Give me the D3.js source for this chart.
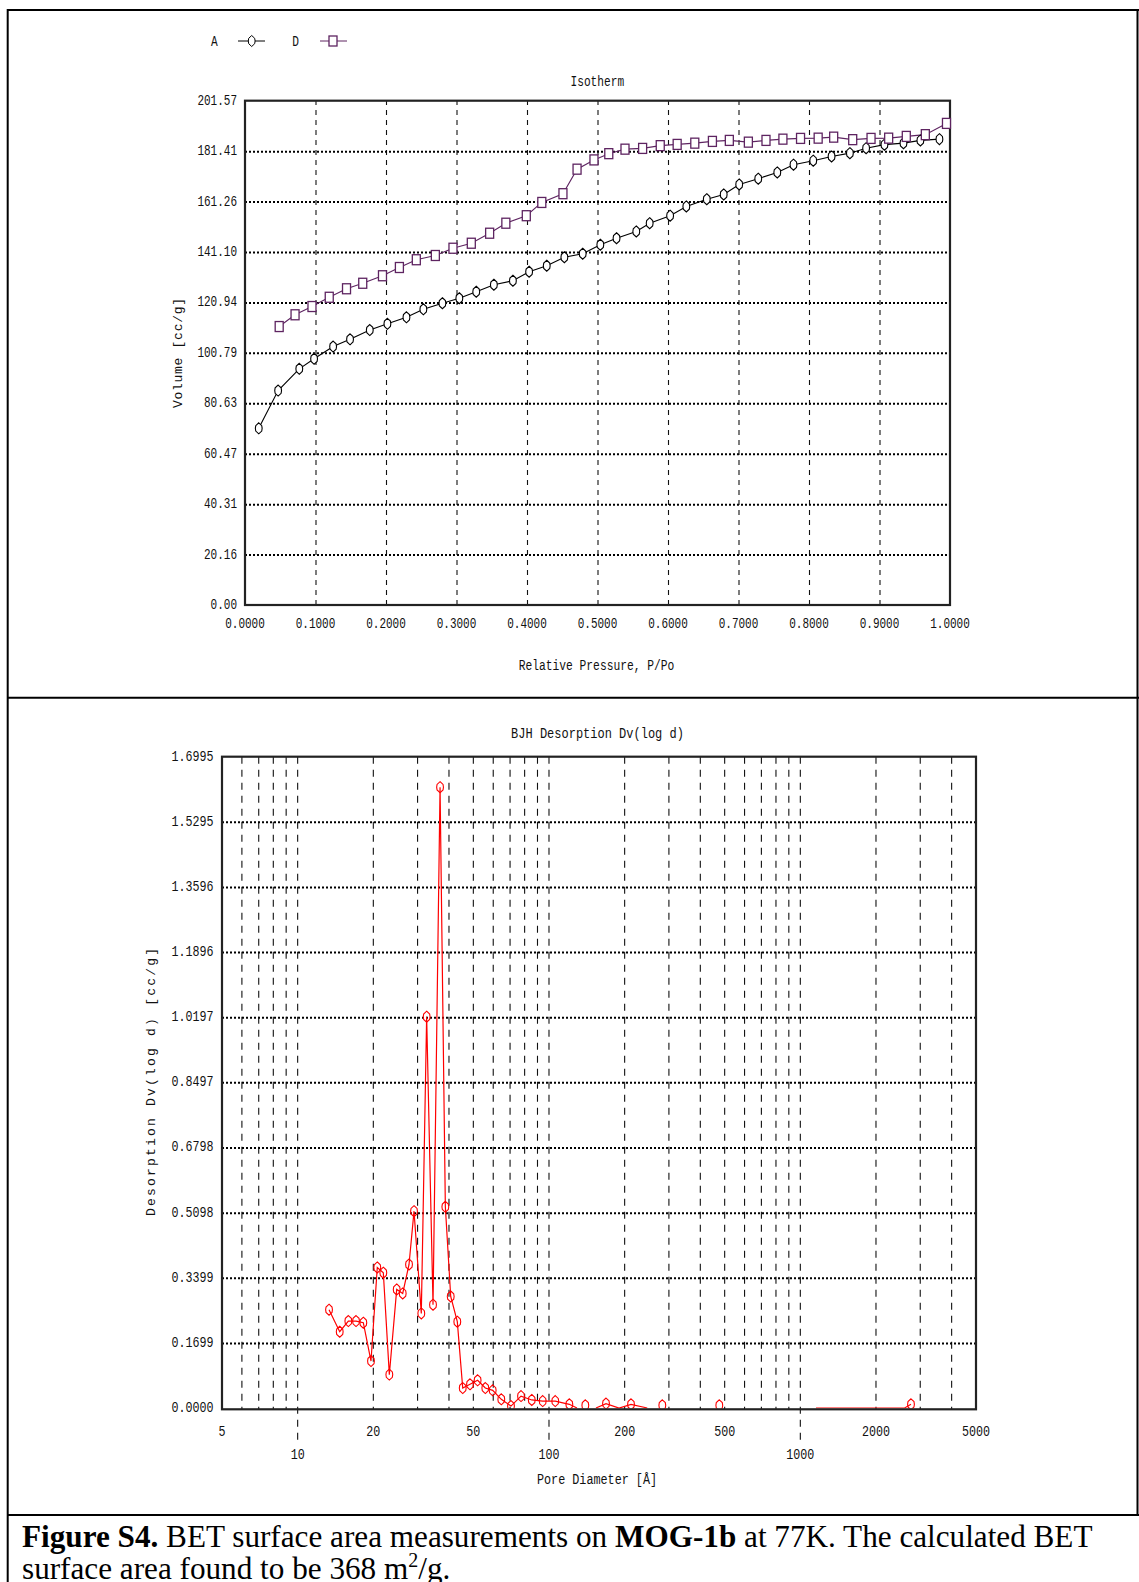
<!DOCTYPE html>
<html><head><meta charset="utf-8">
<script src="https://cdn.jsdelivr.net/npm/d3@7"></script>
<style>
html,body{margin:0;padding:0;background:#fff;}
svg{display:block;}
</style></head><body>
<svg id="fig" width="1139" height="1582"></svg>
<script>
// ---- Isotherm: adsorption (A) and desorption (D) branches ----
const isoA_P = [0.0195, 0.047, 0.077, 0.098, 0.125, 0.149, 0.177, 0.202, 0.229, 0.253, 0.280, 0.304, 0.328, 0.353, 0.380, 0.403, 0.428, 0.453, 0.479, 0.504, 0.527, 0.555, 0.574, 0.603, 0.626, 0.655, 0.679, 0.701, 0.728, 0.755, 0.778, 0.806, 0.832, 0.858, 0.881, 0.907, 0.934, 0.958, 0.985];
const isoA_V = [70.6, 85.7, 94.4, 98.4, 103.3, 106.2, 109.9, 112.4, 115.0, 118.2, 120.6, 122.6, 125.2, 128.0, 129.6, 133.2, 135.6, 139.0, 140.4, 144.0, 146.6, 149.3, 152.6, 155.6, 159.3, 162.2, 164.1, 168.1, 170.4, 172.9, 176.0, 177.6, 179.3, 180.6, 182.6, 184.0, 184.6, 185.7, 186.2];
const isoD_P = [0.0485, 0.071, 0.095, 0.1195, 0.144, 0.167, 0.195, 0.219, 0.243, 0.270, 0.295, 0.321, 0.347, 0.370, 0.399, 0.421, 0.451, 0.471, 0.495, 0.516, 0.539, 0.564, 0.589, 0.613, 0.638, 0.663, 0.687, 0.714, 0.739, 0.763, 0.788, 0.813, 0.835, 0.862, 0.888, 0.913, 0.938, 0.965, 0.995];
const isoD_V = [111.3, 116.0, 119.3, 123.0, 126.4, 128.6, 131.6, 134.9, 138.0, 139.7, 142.6, 144.6, 148.6, 152.6, 155.6, 160.9, 164.4, 174.2, 177.9, 180.4, 182.2, 182.5, 183.6, 184.1, 184.6, 185.3, 185.7, 185.0, 185.7, 186.2, 186.5, 186.6, 187.0, 186.0, 186.5, 186.6, 187.3, 188.0, 192.5];
const isoXTicks = ["0.0000", "0.1000", "0.2000", "0.3000", "0.4000", "0.5000", "0.6000", "0.7000", "0.8000", "0.9000", "1.0000"];
const isoYTicks = ["0.00", "20.16", "40.31", "60.47", "80.63", "100.79", "120.94", "141.10", "161.26", "181.41", "201.57"];

// ---- BJH desorption Dv(log d); null breaks the trace ----
const bjhDiam = [13.33, 14.70, 15.91, 17.07, 18.25, 19.58, 20.74, 21.92, 23.16, 24.78, 26.18, 27.74, 29.04, 31.04, 32.6, 34.56, 36.86, 38.69, 40.64, 43.17, 45.37, 48.5, 52.0, 55.8, 59.7, 64.6, 70.6, 77.4, 85.4, 94.4, 105.9, 120.5, 129.2, 134, 139.5, 145, 153.8, 168.6, 190, 212, 246, 260, 282.4, 300, 476, 600, 1154, 2600, 2756];
const bjhDv = [0.2565, 0.199, 0.2268, 0.2268, 0.2226, 0.1225, 0.3668, 0.353, 0.0871, 0.3094, 0.299, 0.3746, 0.5136, 0.2469, 1.021, 0.2695, 1.620, 0.525, 0.291, 0.2252, 0.0521, 0.0618, 0.0722, 0.0521, 0.046, 0.0227, 0.005, 0.031, 0.021, 0.018, 0.018, 0.0096, 0, null, 0.007, null, 0, 0.0115, 0, 0.0096, 0, null, 0.007, null, 0.007, null, 0, 0, 0.0096];
const bjhYTicks = ["0.0000", "0.1699", "0.3399", "0.5098", "0.6798", "0.8497", "1.0197", "1.1896", "1.3596", "1.5295", "1.6995"];
const bjhXMajor = [5, 20, 50, 200, 500, 2000, 5000];
const bjhXDecade = [10, 100, 1000];
const bjhXGrid = [6, 7, 8, 9, 10, 20, 30, 40, 50, 60, 70, 80, 90, 100, 200, 300, 400, 500, 600, 700, 800, 900, 1000, 2000, 3000, 4000];

const svg = d3.select("#fig");
const MONO = "'Liberation Mono', 'DejaVu Sans Mono', monospace";
const INK = "#111";

// monospaced label squeezed to a fixed character pitch
function mono(sel, str, cw, anchor) {
  return sel.text(str)
    .attr("font-family", MONO).attr("font-size", 14.5).attr("fill", INK)
    .attr("text-anchor", anchor || "middle").attr("dominant-baseline", "central")
    .attr("textLength", str.length * cw).attr("lengthAdjust", "spacingAndGlyphs");
}

// ---- surrounding table rules ----
const rules = svg.append("g").attr("stroke", "#000").attr("stroke-width", 2);
rules.append("line").attr("x1", 7).attr("x2", 1139).attr("y1", 10).attr("y2", 10);
rules.append("line").attr("x1", 7.7).attr("x2", 7.7).attr("y1", 9).attr("y2", 1582);
rules.append("line").attr("x1", 1137.5).attr("x2", 1137.5).attr("y1", 9).attr("y2", 1516);
rules.append("line").attr("x1", 7).attr("x2", 1139).attr("y1", 697.8).attr("y2", 697.8);
rules.append("line").attr("x1", 7).attr("x2", 1139).attr("y1", 1515).attr("y2", 1515);

// ================= Isotherm =================
const xI = d3.scaleLinear().domain([0, 1]).range([245, 950]);
const yI = d3.scaleLinear().domain([0, 201.57]).range([605, 100.7]);
const gI = svg.append("g");

// grid
gI.append("g").attr("transform", `translate(0,${yI(0)})`)
  .call(d3.axisBottom(xI).tickValues(isoXTicks.map(Number).slice(1, -1)).tickSize(-(yI(0) - yI(201.57))).tickFormat(""))
  .call(g => g.select(".domain").remove())
  .call(g => g.selectAll("line").attr("stroke", INK).attr("stroke-width", 1.1).attr("stroke-dasharray", "5,5"));
gI.append("g").attr("transform", `translate(${xI(0)},0)`)
  .call(d3.axisLeft(yI).tickValues(isoYTicks.map(Number).slice(1, -1)).tickSize(-(xI(1) - xI(0))).tickFormat(""))
  .call(g => g.select(".domain").remove())
  .call(g => g.selectAll("line").attr("stroke", "#000").attr("stroke-width", 2).attr("stroke-dasharray", "2,2"));

// frame
gI.append("rect").attr("x", xI(0)).attr("y", yI(201.57)).attr("width", xI(1) - xI(0)).attr("height", yI(0) - yI(201.57))
  .attr("fill", "none").attr("stroke", "#222").attr("stroke-width", 2.2);

// tick labels
gI.append("g").selectAll("text").data(isoYTicks).join("text")
  .attr("x", xI(0) - 8).attr("y", d => yI(+d)).each(function (d) { mono(d3.select(this), d, 6.6, "end"); });
gI.append("g").selectAll("text").data(isoXTicks).join("text")
  .attr("x", d => xI(+d)).attr("y", 624).each(function (d) { mono(d3.select(this), d, 6.6); });

mono(gI.append("text").attr("x", 597.3).attr("y", 81.7), "Isotherm", 6.7);
mono(gI.append("text").attr("x", 596.5).attr("y", 666), "Relative Pressure, P/Po", 6.77);
gI.append("text").attr("transform", "translate(178,353) rotate(-90)")
  .text("Volume [cc/g]").attr("font-family", MONO).attr("font-size", 13).attr("fill", INK)
  .attr("text-anchor", "middle").attr("dominant-baseline", "central")
  .attr("textLength", 110).attr("lengthAdjust", "spacing");

// markers
const ovalPath = "M0,-5.5L3,-2.7L3.4,0L3,2.7L0,5.5L-3,2.7L-3.4,0L-3,-2.7Z";
const purple = "#5e2461";

const isoA = isoA_P.map((p, i) => [p, isoA_V[i]]);
const isoD = isoD_P.map((p, i) => [p, isoD_V[i]]);
const lineI = d3.line().x(d => xI(d[0])).y(d => yI(d[1]));

gI.append("path").datum(isoA).attr("d", lineI).attr("fill", "none").attr("stroke", "#000").attr("stroke-width", 1.1);
gI.append("path").datum(isoD).attr("d", lineI).attr("fill", "none").attr("stroke", purple).attr("stroke-width", 1.1);
gI.append("g").selectAll("path").data(isoA).join("path")
  .attr("transform", d => `translate(${xI(d[0])},${yI(d[1])})`).attr("d", ovalPath)
  .attr("fill", "#fff").attr("stroke", "#000").attr("stroke-width", 1.1);
gI.append("g").selectAll("rect").data(isoD).join("rect")
  .attr("x", d => xI(d[0]) - 4).attr("y", d => yI(d[1]) - 5).attr("width", 8).attr("height", 10)
  .attr("fill", "#fff").attr("stroke", purple).attr("stroke-width", 1.3);

// legend
const lg = svg.append("g");
mono(lg.append("text").attr("x", 214.3).attr("y", 41.7), "A", 6.7);
lg.append("line").attr("x1", 238).attr("x2", 265).attr("y1", 41).attr("y2", 41).attr("stroke", "#000");
lg.append("path").attr("transform", "translate(251.7,41)").attr("d", ovalPath).attr("fill", "#fff").attr("stroke", "#000");
mono(lg.append("text").attr("x", 295.7).attr("y", 41.7), "D", 6.7);
lg.append("line").attr("x1", 320).attr("x2", 347).attr("y1", 41).attr("y2", 41).attr("stroke", purple);
lg.append("rect").attr("x", 329).attr("y", 36).attr("width", 8).attr("height", 10).attr("fill", "#fff").attr("stroke", purple).attr("stroke-width", 1.3);

// ================= BJH Dv(log d) =================
const xB = d3.scaleLog().domain([5, 5000]).range([222, 976]);
const yB = d3.scaleLinear().domain([0, 1.6995]).range([1408, 756.7]);
const gB = svg.append("g");
const plotBottom = 1409.3;

// vertical grid; decade lines run on down to the second label row
gB.append("g").selectAll("line").data(bjhXGrid).join("line")
  .attr("x1", d => xB(d)).attr("x2", d => xB(d))
  .attr("y1", yB(1.6995)).attr("y2", d => bjhXDecade.includes(d) ? 1443 : plotBottom)
  .attr("stroke", INK).attr("stroke-width", 1.1).attr("stroke-dasharray", "7,6");
gB.append("g").attr("transform", `translate(${xB(5)},0)`)
  .call(d3.axisLeft(yB).tickValues(bjhYTicks.map(Number).slice(1, -1)).tickSize(-(xB(5000) - xB(5))).tickFormat(""))
  .call(g => g.select(".domain").remove())
  .call(g => g.selectAll("line").attr("stroke", "#000").attr("stroke-width", 2).attr("stroke-dasharray", "2,2"));

// data trace
svg.append("defs").append("clipPath").attr("id", "bjhClip")
  .append("rect").attr("x", 222).attr("y", 756.7).attr("width", 754).attr("height", 651.8);
const bjh = bjhDiam.map((d, i) => [d, bjhDv[i]]);
const traceG = gB.append("g").attr("clip-path", "url(#bjhClip)");
traceG.append("path").datum(bjh)
  .attr("d", d3.line().defined(d => d[1] !== null).x(d => xB(d[0])).y(d => yB(d[1])))
  .attr("fill", "none").attr("stroke", "#ff0000").attr("stroke-width", 1.2);
traceG.append("g").selectAll("path").data(bjh.filter(d => d[1] !== null && d[1] > 0)).join("path")
  .attr("transform", d => `translate(${xB(d[0])},${yB(d[1])})`).attr("d", ovalPath)
  .attr("fill", "none").attr("stroke", "#ff0000").attr("stroke-width", 1.1);

// frame
gB.append("rect").attr("x", xB(5)).attr("y", yB(1.6995)).attr("width", xB(5000) - xB(5)).attr("height", plotBottom - yB(1.6995))
  .attr("fill", "none").attr("stroke", "#222").attr("stroke-width", 2.2);

// tick labels
gB.append("g").selectAll("text").data(bjhYTicks).join("text")
  .attr("x", xB(5) - 8.5).attr("y", d => yB(+d)).each(function (d) { mono(d3.select(this), d, 7.0, "end"); });
gB.append("g").selectAll("text").data(bjhXMajor).join("text")
  .attr("x", d => xB(d)).attr("y", 1431.5).each(function (d) { mono(d3.select(this), String(d), 7.0); });
gB.append("g").selectAll("text").data(bjhXDecade).join("text")
  .attr("x", d => xB(d)).attr("y", 1455).each(function (d) { mono(d3.select(this), String(d), 7.0); });

mono(gB.append("text").attr("x", 597.5).attr("y", 734.3), "BJH Desorption Dv(log d)", 7.2);
mono(gB.append("text").attr("x", 597).attr("y", 1480), "Pore Diameter [Å]", 7.06);
gB.append("text").attr("transform", "translate(151,1082) rotate(-90)")
  .text("Desorption Dv(log d) [cc/g]").attr("font-family", MONO).attr("font-size", 13).attr("fill", INK)
  .attr("text-anchor", "middle").attr("dominant-baseline", "central")
  .attr("textLength", 268).attr("lengthAdjust", "spacing");

// ================= caption =================
const cap = svg.append("g").attr("font-family", "'Liberation Serif', 'Times New Roman', serif").attr("font-size", 31.2).attr("fill", "#000");
const l1 = cap.append("text").attr("x", 22).attr("y", 1547);
l1.append("tspan").attr("font-weight", "bold").text("Figure S4.");
l1.append("tspan").text(" BET surface area measurements on ");
l1.append("tspan").attr("font-weight", "bold").text("MOG-1b");
l1.append("tspan").text(" at 77K. The calculated BET");
const l2 = cap.append("text").attr("x", 22).attr("y", 1579);
l2.append("tspan").text("surface area found to be 368 m");
l2.append("tspan").attr("font-size", 20).attr("dy", -12).text("2");
l2.append("tspan").attr("dy", 12).text("/g.");
</script>
</body></html>
